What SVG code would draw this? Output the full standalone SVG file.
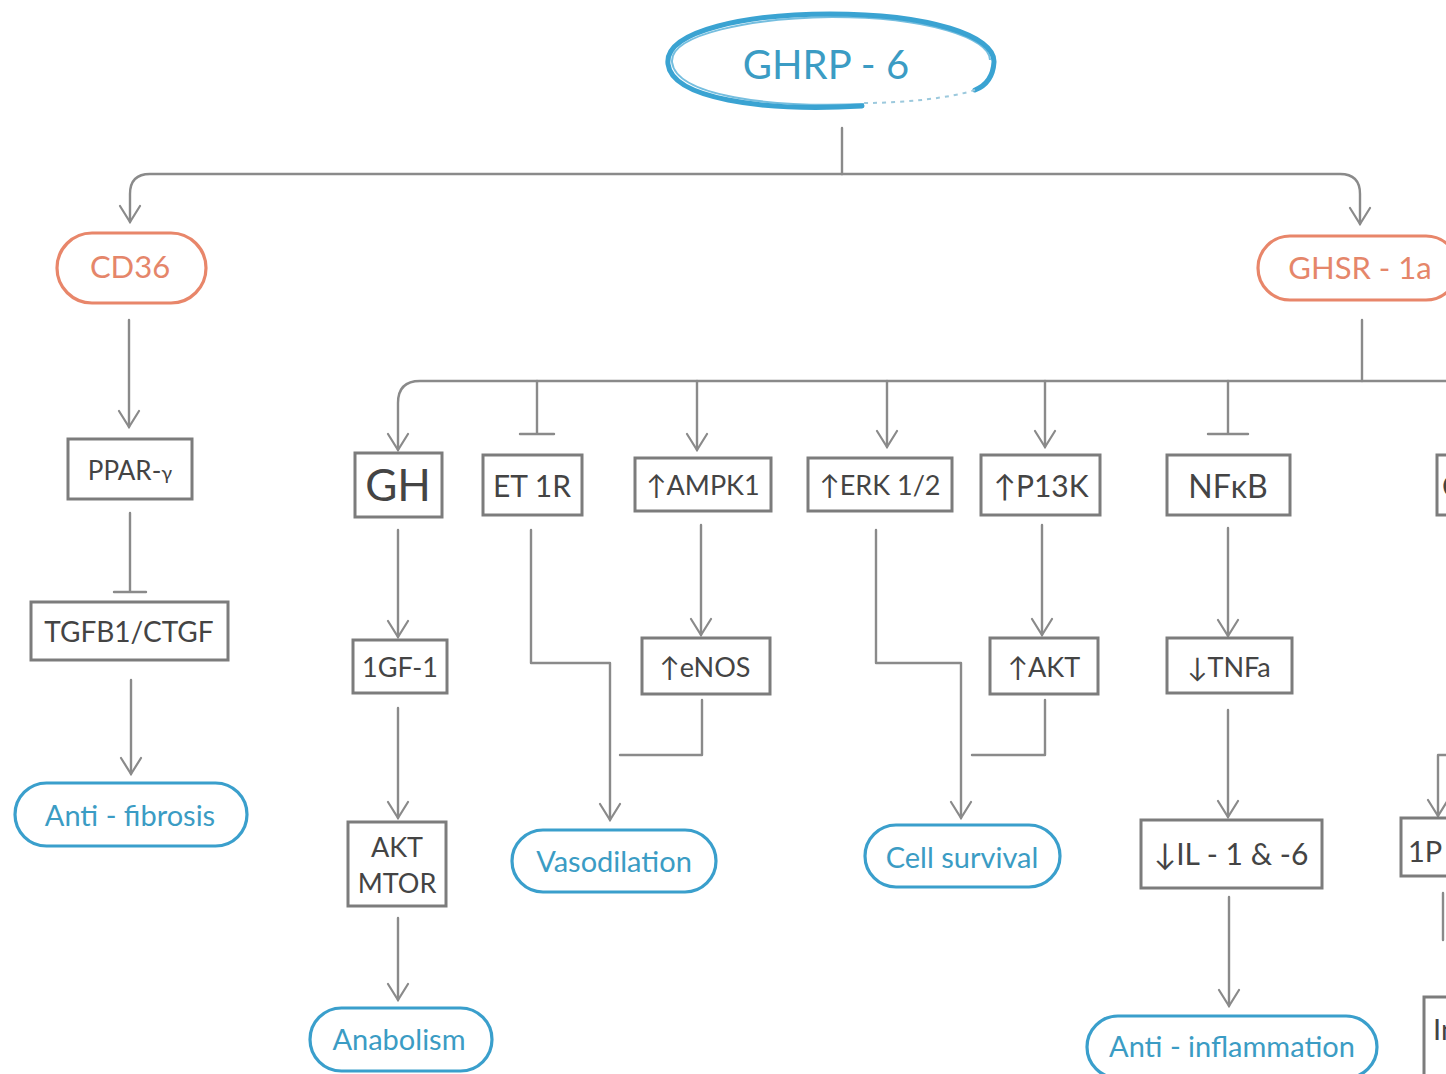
<svg xmlns="http://www.w3.org/2000/svg" width="1446" height="1074" viewBox="0 0 1446 1074">
<defs>
<style>
.ln{fill:none;stroke:#8a8a8a;stroke-width:2.4;stroke-linecap:round;stroke-linejoin:round}
.arr{marker-end:url(#ah)}
.box{fill:#fff;stroke:#7c7c7c;stroke-width:3}
.bt{font-family:Lato,"Open Sans","DejaVu Sans",sans-serif;fill:#444;text-anchor:middle}
.pb{fill:#fff;stroke:#3a9fcc;stroke-width:3.2}
.pt{font-family:Lato,"Open Sans","DejaVu Sans",sans-serif;fill:#3b9cc4;text-anchor:middle;font-size:29px}
.po{fill:#fff;stroke:#e8866a;stroke-width:3.2}
.ot{font-family:Lato,"Open Sans","DejaVu Sans",sans-serif;fill:#e5866a;text-anchor:middle;font-size:31px}
</style>
<marker id="ah" viewBox="0 0 20 24" refX="18" refY="12" markerWidth="20" markerHeight="24" markerUnits="userSpaceOnUse" orient="auto">
<path d="M2,2 L18,12 L2,22" fill="none" stroke="#8a8a8a" stroke-width="2.2" stroke-linecap="round"/>
</marker>
</defs>
<rect width="1446" height="1074" fill="#fff"/>

<g id="connectors">
<!-- top -->
<path class="ln" d="M842 128 V174"/>
<path class="ln arr" d="M842 174 H150 Q130 174 130 194 V222"/>
<path class="ln arr" d="M842 174 H1340 Q1360 174 1360 194 V224"/>
<!-- CD36 branch -->
<path class="ln arr" d="M129 320 V427"/>
<path class="ln" d="M130 513 V592 M114 592 H146"/>
<path class="ln arr" d="M131 680 V774"/>
<!-- GHSR branch -->
<path class="ln" d="M1362 320 V381"/>
<path class="ln arr" d="M1446 381 H420 Q398 381 398 403 V450"/>
<path class="ln" d="M537 381 V434 M520 434 H554"/>
<path class="ln arr" d="M697 381 V450"/>
<path class="ln arr" d="M887 381 V447"/>
<path class="ln arr" d="M1045 381 V447"/>
<path class="ln" d="M1228 381 V434 M1208 434 H1248"/>
<!-- GH column -->
<path class="ln arr" d="M398 530 V637"/>
<path class="ln arr" d="M398 708 V818"/>
<path class="ln arr" d="M398 918 V1000"/>
<!-- Vasodilation -->
<path class="ln arr" d="M531 530 V663 H610 V820"/>
<path class="ln arr" d="M701 525 V635"/>
<path class="ln" d="M702 700 V755 H620"/>
<!-- Cell survival -->
<path class="ln arr" d="M876 530 V663 H961 V818"/>
<path class="ln arr" d="M1042 525 V635"/>
<path class="ln" d="M1045 700 V755 H972"/>
<!-- inflammation -->
<path class="ln arr" d="M1228 528 V636"/>
<path class="ln arr" d="M1228 710 V817"/>
<path class="ln arr" d="M1229 897 V1006"/>
<!-- right edge -->
<path class="ln arr" d="M1446 755 H1438 V816"/>
<path class="ln" d="M1443 893 V940"/>
</g>

<g id="ghrp6">
<path d="M862 106 C760 112 672 98 668 64 C664 30 750 14 830 14 C930 14 995 36 994 62 C993 78 985 86 975 90" fill="none" stroke="#3aa3d2" stroke-width="5" stroke-linecap="round"/>
<path d="M864 104 C770 108 676 96 672 62 C670 34 752 18 832 17 C928 17 990 38 990 60" fill="none" stroke="#3aa3d2" stroke-width="2" opacity="0.7"/>
<path d="M975 90 C950 98 905 103 864 103" fill="none" stroke="#9cc9dd" stroke-width="2" stroke-dasharray="4 5"/>
<text x="826" y="79" class="pt" font-size="40" style="font-size:40px">GHRP - 6</text>
</g>

<g id="cd36"><rect class="po" x="57" y="233" width="149" height="70" rx="35"/><text class="ot" x="130" y="278">CD36</text></g>
<g id="ghsr"><rect class="po" x="1258" y="236" width="200" height="64" rx="32"/><text class="ot" x="1360" y="279">GHSR - 1a</text></g>

<g id="ppar"><rect class="box" x="68" y="439" width="124" height="60"/><text class="bt" x="130" y="480" font-size="26">PPAR-<tspan font-size="20">γ</tspan></text></g>
<g id="tgfb1"><rect class="box" x="31" y="602" width="197" height="58"/><text class="bt" x="129" y="642" font-size="28">TGFB1/CTGF</text></g>
<g id="antifibrosis"><rect class="pb" x="15" y="783" width="232" height="63" rx="31.5"/><text class="pt" x="130" y="826">Anti - fibrosis</text></g>

<g id="gh"><rect class="box" x="355" y="453" width="87" height="64"/><text class="bt" x="398" y="501" font-size="44">GH</text></g>
<g id="igf1"><rect class="box" x="353" y="640" width="94" height="53"/><text class="bt" x="400" y="677" font-size="27">1GF-1</text></g>
<g id="aktmtor"><rect class="box" x="348" y="822" width="98" height="84"/><text class="bt" x="397" y="857" font-size="27">AKT</text><text class="bt" x="397" y="893" font-size="27">MTOR</text></g>
<g id="anabolism"><rect class="pb" x="310" y="1008" width="182" height="63" rx="31.5"/><text class="pt" x="399" y="1050">Anabolism</text></g>

<g id="et1r"><rect class="box" x="483" y="455" width="99" height="60"/><text class="bt" x="532" y="497" font-size="30">ET 1R</text></g>
<g id="ampk1"><rect class="box" x="635" y="458" width="136" height="53"/><text class="bt" x="703" y="495" font-size="27">↑AMPK1</text></g>
<g id="enos"><rect class="box" x="642" y="638" width="128" height="56"/><text class="bt" x="705" y="677" font-size="27">↑eNOS</text></g>
<g id="vasodilation"><rect class="pb" x="512" y="830" width="204" height="62" rx="31"/><text class="pt" x="614" y="872">Vasodilation</text></g>

<g id="erk"><rect class="box" x="808" y="458" width="144" height="53"/><text class="bt" x="880" y="495" font-size="27">↑ERK 1/2</text></g>
<g id="p13k"><rect class="box" x="981" y="455" width="119" height="60"/><text class="bt" x="1041" y="497" font-size="30">↑P13K</text></g>
<g id="akt"><rect class="box" x="990" y="638" width="108" height="56"/><text class="bt" x="1044" y="677" font-size="27">↑AKT</text></g>
<g id="cellsurvival"><rect class="pb" x="865" y="825" width="195" height="62" rx="31"/><text class="pt" x="962" y="868">Cell survival</text></g>

<g id="nfkb"><rect class="box" x="1167" y="455" width="123" height="60"/><text class="bt" x="1228" y="498" font-size="32">NFκB</text></g>
<g id="tnfa"><rect class="box" x="1167" y="638" width="125" height="55"/><text class="bt" x="1229" y="677" font-size="27">↓TNFa</text></g>
<g id="il16"><rect class="box" x="1141" y="820" width="181" height="68"/><text class="bt" x="1231" y="865" font-size="30">↓IL - 1 &amp; -6</text></g>
<g id="antiinflammation"><rect class="pb" x="1087" y="1016" width="290" height="62" rx="31"/><text class="pt" x="1232" y="1057">Anti - inflammation</text></g>

<g id="right-partial">
<rect class="box" x="1437" y="455" width="40" height="60"/><text class="bt" x="1442" y="497" font-size="30" style="text-anchor:start">C</text>
<rect class="box" x="1401" y="818" width="60" height="58"/><text class="bt" x="1408" y="862" font-size="29" style="text-anchor:start">1P</text>
<rect class="box" x="1424" y="997" width="60" height="90"/><text class="bt" x="1433" y="1040" font-size="29" style="text-anchor:start">In</text>
</g>
</svg>
